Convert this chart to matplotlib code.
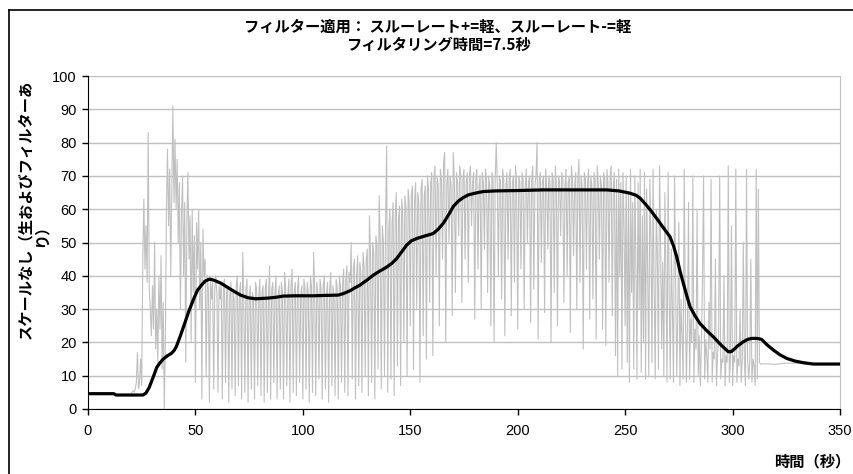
import numpy as np
import matplotlib
matplotlib.use("Agg")
import matplotlib.pyplot as plt
from matplotlib.lines import Line2D

# ---------------------------------------------------------------
# data
# ---------------------------------------------------------------
TITLE_1 = "フィルター適用： スルーレート+=軽、スルーレート-=軽"
TITLE_2 = "フィルタリング時間=7.5秒"
YLABEL_1 = "スケールなし（生およびフィルターあ"
YLABEL_2 = "り）"
XLABEL = "時間（秒）"

x_ticks = [0, 50, 100, 150, 200, 250, 300, 350]
y_ticks = [0, 10, 20, 30, 40, 50, 60, 70, 80, 90, 100]

# filtered signal (black)
filt_t = [0, 12, 13, 25.6, 27, 28.5, 30, 31, 32, 33.3, 35, 37, 38.8, 40, 41.1, 43,
          45, 47, 49.6, 51, 52.8, 54.5, 56.6, 58.5, 60, 62.1, 65, 68.3, 71, 74.5,
          78, 83.8, 88, 90.8, 96, 104.9, 110, 116.5, 119, 121.9, 124, 126.6, 130,
          132.8, 136, 139, 141.5, 143.7, 146, 148.3, 150.5, 153, 157, 160.7, 163,
          165.4, 168, 170, 172.3, 174.7, 177, 180.1, 184, 190, 200, 211.9, 230,
          241.4, 247, 252.3, 255, 257, 259.5, 262.3, 265.5, 268.5, 270.9, 272.5,
          274, 275.5, 277.1, 278.7, 280.2, 282.5, 284.8, 288, 291, 294.5, 298,
          299.3, 300.3, 302.5, 305, 307, 308.9, 311.5, 313.5, 316, 319, 322,
          325.2, 329, 333, 337.6, 350]
filt_v = [4.6, 4.6, 4.2, 4.2, 4.8, 6.5, 9.0, 10.7, 12.5, 13.7, 15.0, 16.0, 16.7, 17.5,
          18.7, 22.0, 25.7, 29.5, 33.7, 35.7, 37.2, 38.4, 39.0, 38.7, 38.3, 37.7,
          36.5, 35.2, 34.2, 33.4, 33.1, 33.3, 33.6, 33.9, 34.0, 34.0, 34.1, 34.2,
          34.7, 35.5, 36.3, 37.2, 38.8, 40.2, 41.5, 42.6, 43.8, 45.2, 47.2, 49.2,
          50.5, 51.2, 52.0, 52.7, 54.0, 55.8, 58.5, 60.8, 62.4, 63.5, 64.3, 64.8,
          65.3, 65.5, 65.6, 65.8, 65.8, 65.8, 65.5, 64.8, 64.2, 63.3, 61.5, 59.3,
          56.5, 53.8, 51.7, 49.0, 45.7, 41.5, 37.7, 34.0, 30.7, 28.0, 25.7, 23.5,
          21.7, 19.3, 17.2, 17.2, 17.7, 19.0, 20.2, 20.9, 21.2, 21.2, 20.9, 19.3,
          17.7, 16.3, 15.2, 14.4, 13.9, 13.5, 13.5]

# raw signal (gray): quiet start, dense part sampled every 0.5 s from 20 s, quiet tail
raw_head_t = [0, 12, 13, 19.5]
raw_head_v = [4.5, 4.5, 4.2, 4.3]

RAW_START = 20.0
RAW_STEP = 0.5
raw_rows = [
    [4.5, 5, 5.5, 5, 6, 8, 17, 6, 8, 15, 7, 45, 63, 42, 55, 38, 83, 36, 30, 22],          # 20
    [37, 24, 50, 18, 30, 14, 40, 24, 46, 12, 32, 0, 20, 60, 78, 55, 72, 40, 66, 91],      # 30
    [62, 81, 60, 75, 50, 68, 30, 58, 70, 40, 62, 14, 55, 71, 45, 58, 20, 60, 35, 52],     # 40
    [8, 56, 42, 60, 30, 50, 3, 54, 40, 45, 10, 40, 36, 2, 39, 33, 38, 6, 36, 40],         # 50
    [34, 5, 37, 33, 38, 3, 36, 39, 8, 35, 37, 2, 34, 38, 6, 36, 33, 4, 37, 40],           # 60
    [7, 35, 38, 3, 47, 34, 5, 36, 39, 2, 34, 37, 6, 35, 33, 3, 38, 36, 7, 34],            # 70
    [39, 4, 35, 37, 2, 36, 39, 5, 34, 43, 3, 36, 38, 8, 35, 40, 3, 34, 37, 6],            # 80
    [38, 35, 3, 41, 36, 7, 34, 39, 2, 37, 42, 5, 35, 38, 4, 36, 40, 8, 34, 37],           # 90
    [3, 39, 36, 6, 38, 35, 2, 40, 37, 5, 47, 36, 4, 38, 35, 9, 39, 36, 3, 37],            # 100
    [40, 6, 35, 38, 2, 36, 41, 7, 37, 34, 4, 39, 36, 3, 40, 37, 8, 38, 42, 5],            # 110
    [39, 43, 4, 41, 38, 50, 9, 42, 45, 3, 40, 46, 7, 44, 41, 5, 47, 43, 10, 45],          # 120
    [48, 4, 58, 46, 8, 50, 47, 3, 52, 49, 12, 64, 51, 6, 55, 50, 10, 57, 79, 5],          # 130
    [54, 60, 9, 56, 62, 4, 58, 65, 13, 57, 61, 7, 63, 59, 20, 64, 60, 10, 66, 62],        # 140
    [25, 64, 67, 12, 63, 68, 30, 65, 62, 8, 66, 69, 22, 64, 67, 15, 70, 66, 32, 68],      # 150
    [71, 16, 69, 73, 40, 70, 67, 25, 72, 69, 45, 74, 77, 20, 68, 72, 50, 70, 67, 28],     # 160
    [77, 69, 35, 71, 68, 52, 73, 70, 32, 69, 72, 45, 68, 71, 38, 70, 73, 55, 68, 71],     # 170
    [27, 69, 72, 42, 67, 70, 30, 71, 68, 48, 72, 69, 35, 70, 67, 25, 71, 69, 20, 68],     # 180
    [80, 67, 40, 70, 68, 33, 72, 69, 22, 67, 71, 45, 69, 72, 28, 68, 70, 38, 73, 67],     # 190
    [24, 70, 68, 42, 71, 69, 30, 67, 72, 50, 68, 70, 26, 69, 73, 36, 67, 70, 80, 21],     # 200
    [69, 71, 44, 68, 70, 29, 72, 67, 48, 70, 68, 20, 71, 69, 35, 73, 67, 25, 70, 68],     # 210
    [52, 71, 69, 32, 67, 72, 40, 68, 70, 23, 73, 69, 46, 67, 71, 30, 68, 75, 38, 70],     # 220
    [67, 18, 71, 69, 42, 68, 72, 27, 70, 67, 33, 71, 69, 21, 73, 68, 45, 70, 67, 24],     # 230
    [71, 69, 19, 72, 68, 38, 70, 73, 28, 67, 71, 16, 69, 10, 72, 40, 68, 12, 71, 55],     # 240
    [25, 70, 14, 65, 8, 72, 35, 62, 12, 70, 45, 9, 68, 30, 72, 11, 58, 20, 71, 9],        # 250
    [66, 42, 10, 69, 50, 14, 72, 38, 9, 60, 46, 12, 73, 52, 18, 44, 10, 65, 40, 8],       # 260
    [71, 35, 9, 48, 30, 8, 70, 40, 10, 28, 56, 7, 33, 22, 9, 72, 30, 8, 25, 62],          # 270
    [9, 27, 20, 70, 8, 24, 18, 60, 10, 22, 7, 19, 40, 70, 9, 21, 16, 8, 32, 18],          # 280
    [69, 8, 17, 15, 45, 7, 16, 22, 70, 9, 15, 14, 40, 7, 16, 14, 73, 8, 15, 55],          # 290
    [7, 16, 14, 72, 8, 15, 13, 30, 8, 15, 50, 14, 7, 72, 15, 9, 14, 45, 8, 15],           # 300
    [13, 7, 72, 9, 66, 14, 13.5],                                                         # 310
]

raw_tail_t = [315, 320, 325, 330, 335, 340, 350]
raw_tail_v = [13.6, 13.4, 13.8, 13.7, 13.5, 13.5, 13.5]

# ---------------------------------------------------------------
# assemble raw series
# ---------------------------------------------------------------
dense_v = [v for row in raw_rows for v in row]
dense_t = RAW_START + RAW_STEP * np.arange(len(dense_v))
raw_t = np.concatenate([raw_head_t, dense_t, raw_tail_t])
raw_v = np.concatenate([raw_head_v, dense_v, raw_tail_v])

# ---------------------------------------------------------------
# plot
# ---------------------------------------------------------------
plt.rcParams["font.family"] = ["Liberation Sans", "DejaVu Sans"]
JP = ["Noto Sans CJK JP", "DejaVu Sans"]
JP_SIZE = 11

W, H = 854, 474
fig = plt.figure(figsize=(W / 100, H / 100), dpi=100)
ax = fig.add_axes([88 / W, 1 - 409 / H, 752 / W, 333 / H])

ax.plot(raw_t, raw_v, color="#c0c0c0", lw=0.8, zorder=2)
ax.plot(filt_t, filt_v, color="black", lw=2.3, zorder=3,
        solid_joinstyle="round", solid_capstyle="round")

ax.set_xlim(0, 350)
ax.set_ylim(0, 100)
ax.set_xticks(x_ticks)
ax.set_yticks(y_ticks)
ax.tick_params(axis="both", labelsize=10.5, length=4, width=1, color="black",
               direction="out", pad=4)
ax.tick_params(axis="x", pad=7)
ax.yaxis.grid(True, color="#c0c0c0", lw=1.0, zorder=1)
ax.set_axisbelow(True)

ax.spines["left"].set_color("black")
ax.spines["bottom"].set_color("black")
ax.spines["right"].set_color("#c0c0c0")
ax.spines["top"].set_visible(False)

# titles / labels
fig.text(438 / W, 1 - 27 / H, TITLE_1, family=JP, fontsize=JP_SIZE, fontweight="bold",
         ha="center", va="center")
fig.text(438 / W, 1 - 45 / H, TITLE_2, family=JP, fontsize=JP_SIZE, fontweight="bold",
         ha="center", va="center")
fig.text(25 / W, 1 - 209 / H, YLABEL_1, family=JP, fontsize=JP_SIZE, fontweight="bold",
         rotation=90, ha="center", va="center")
fig.text(41 / W, 1 - 232 / H, YLABEL_2, family=JP, fontsize=JP_SIZE, fontweight="bold",
         rotation=90, ha="center", va="center")
fig.text(850 / W, 1 - 461 / H, XLABEL, family=JP, fontsize=JP_SIZE, fontweight="bold",
         ha="right", va="center")

# outer chart frame (only left/top visible in the picture)
fig.add_artist(Line2D([9.5 / W, 9.5 / W], [0, 1 - 9.5 / H], color="black", lw=1.2,
                      transform=fig.transFigure))
fig.add_artist(Line2D([9.5 / W, 1], [1 - 9.5 / H, 1 - 9.5 / H], color="black", lw=1.2,
                      transform=fig.transFigure))

fig.savefig("out.png", dpi=100)
